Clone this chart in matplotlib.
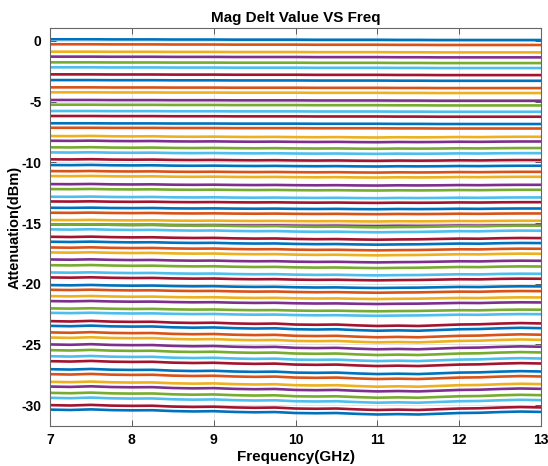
import matplotlib
matplotlib.use("Agg")
import matplotlib.pyplot as plt
import numpy as np

# Frequency grid (GHz)
freq_ghz = [7.0, 7.25, 7.5, 7.75, 8.0, 8.25, 8.5, 8.75, 9.0, 9.25, 9.5, 9.75,
            10.0, 10.25, 10.5, 10.75, 11.0, 11.25, 11.5, 11.75, 12.0, 12.25,
            12.5, 12.75, 13.0]

# Attenuation of each of the 64 states at 7 GHz (dB)
base_db = [0.14, -0.27, -0.88, -1.29, -1.76, -2.17, -2.75, -3.22,
           -3.82, -4.23, -4.86, -5.25, -5.77, -6.18, -6.78, -7.15,
           -7.83, -8.22, -8.76, -9.18, -9.75, -10.22, -10.72, -11.13,
           -11.79, -12.20, -12.83, -13.22, -13.74, -14.15, -14.75, -15.12,
           -15.11, -15.52, -16.13, -16.54, -17.01, -17.42, -18.00, -18.47,
           -19.07, -19.48, -20.11, -20.50, -21.02, -21.43, -22.03, -22.40,
           -23.08, -23.47, -24.01, -24.43, -25.00, -25.47, -25.97, -26.38,
           -27.04, -27.45, -28.08, -28.47, -28.99, -29.40, -30.00, -30.37]

# Deviation vs frequency (dB), read per attenuation band
ripple_a = [0, 0, 0, -0.01, -0.01, -0.01, -0.02, -0.02, -0.02, -0.03, -0.03, -0.03,
            -0.03, -0.04, -0.04, -0.04, -0.04, -0.05, -0.05, -0.06, -0.06, -0.06,
            -0.06, -0.06, -0.06]
ripple_b = [0, -0.01, 0.01, -0.02, -0.03, -0.02, -0.05, -0.06, -0.05, -0.07, -0.08, -0.07,
            -0.09, -0.10, -0.09, -0.11, -0.12, -0.10, -0.11, -0.10, -0.08, -0.09,
            -0.07, -0.06, -0.06]
ripple_c = [0, -0.02, 0.01, -0.03, -0.05, -0.04, -0.08, -0.10, -0.09, -0.13, -0.15, -0.14,
            -0.18, -0.20, -0.19, -0.22, -0.24, -0.22, -0.21, -0.18, -0.15, -0.16,
            -0.12, -0.10, -0.11]
ripple_d = [0, -0.03, 0.02, -0.04, -0.06, -0.05, -0.12, -0.15, -0.13, -0.19, -0.22, -0.20,
            -0.28, -0.30, -0.28, -0.35, -0.40, -0.37, -0.40, -0.34, -0.28, -0.26,
            -0.20, -0.16, -0.19]
ripples = [ripple_a, ripple_b, ripple_c, ripple_d]

colors = ['#0072BD', '#D95319', '#EDB120', '#7E2F8E', '#77AC30', '#4DBEEE', '#A2142F']

x_ticks = [7, 8, 9, 10, 11, 12, 13]
y_ticks = [-30, -25, -20, -15, -10, -5, 0]

plt.rcParams['font.family'] = ['Liberation Sans', 'DejaVu Sans']
plt.rcParams['axes.unicode_minus'] = False

fig = plt.figure(figsize=(5.48, 4.66), dpi=100)
ax = fig.add_axes([50 / 548, 1 - 426 / 466, (541 - 50) / 548, (426 - 28) / 466])

f = np.array(freq_ghz)
for i, b in enumerate(base_db):
    r = np.array(ripples[i // 16])
    ax.plot(f, b + r, color=colors[i % 7], lw=1.9, solid_capstyle='butt')

ax.set_xlim(7, 13)
ax.set_ylim(-31.72, 1.07)
ax.set_xticks(x_ticks)
ax.set_yticks(y_ticks)
ax.grid(True, color='#dedede', lw=0.6)
ax.set_axisbelow(True)
ax.tick_params(direction='in', top=True, right=True, length=4, width=0.6,
               color='#444444', labelsize=10)
ax.tick_params(axis='x', pad=5)
ax.tick_params(axis='y', pad=6)
for lbl in ax.get_xticklabels() + ax.get_yticklabels():
    lbl.set_fontweight('bold')
for sp in ax.spines.values():
    sp.set_color('#666666')
    sp.set_linewidth(0.8)

ax.set_title('Mag Delt Value VS Freq', fontsize=11, fontweight='bold', pad=4)
ax.set_xlabel('Frequency(GHz)', fontsize=11, fontweight='bold', labelpad=2)
ax.set_ylabel('Attenuation(dBm)', fontsize=10.5, fontweight='bold')
ax.yaxis.set_label_coords(-0.057, 0.5)

fig.savefig('out.png', dpi=100)
